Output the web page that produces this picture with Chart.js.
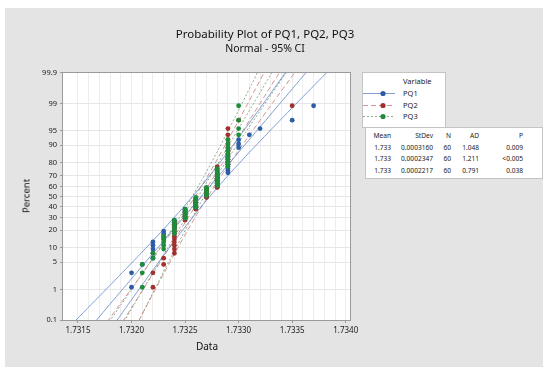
<!DOCTYPE html>
<html>
<head>
<meta charset="utf-8">
<script src="https://cdn.jsdelivr.net/npm/chart.js@4.4.1/dist/chart.umd.min.js"></script>
<style>
  html, body { margin: 0; padding: 0; background: #fff; }
  body { width: 543px; height: 367px; position: relative; overflow: hidden; font-family: "Noto Sans", "Open Sans", sans-serif; color: #222; }
  #frame { position: absolute; left: 5px; top: 8px; right: 0; bottom: 0; background: #e4e4e4; }
  #wrap { position: absolute; left: 0; top: 0; width: 543px; height: 367px; }
  .txt { position: absolute; white-space: nowrap; }
  #title { left: 0; width: 530px; top: 26px; text-align: center; font-size: 11.5px; color: #111; }
  #subtitle { left: 0; width: 530px; top: 41px; text-align: center; font-size: 10.5px; color: #111; }
  #ylab { left: 26px; top: 196px; font-size: 9.5px; color: #111; transform: translate(-50%, -50%) rotate(-90deg); }
  #xlab { left: 207px; top: 339px; font-size: 10px; color: #111; transform: translateX(-50%); }
  #legend { position: absolute; left: 362px; top: 72px; width: 82px; height: 54px; background: #fff; border: 1px solid #c4c4c4; font-size: 7.5px; }
  #legend .hd { position: absolute; left: 40px; top: 3px; }
  #legend .row { position: absolute; left: 0; height: 10px; }
  #legend .row span { position: absolute; left: 40px; top: 0; }
  #stats { position: absolute; left: 365px; top: 127px; width: 176px; height: 50px; background: #fff; border: 1px solid #c4c4c4; font-size: 6.6px; }
  #stats table { border-collapse: collapse; position: absolute; left: 3px; top: 2px; }
  #stats td { text-align: right; padding: 0; height: 11.5px; line-height: 11.5px; }
</style>
</head>
<body>
<div id="frame"></div>
<div id="wrap"><canvas id="chart"></canvas></div>
<div class="txt" id="title">Probability Plot of PQ1, PQ2, PQ3</div>
<div class="txt" id="subtitle">Normal - 95% CI</div>
<div class="txt" id="ylab">Percent</div>
<div class="txt" id="xlab">Data</div>
<div id="legend"></div>
<div id="stats"></div>
<script>
'use strict';

// measured values, one column per 0.0001
const dataLevels = [1.7320, 1.7321, 1.7322, 1.7323, 1.7324, 1.7325, 1.7326, 1.7327, 1.7328,
                    1.7329, 1.7330, 1.7331, 1.7332, 1.7333, 1.7334, 1.7335, 1.7336, 1.7337];
const pq1Counts = [2, 1, 5, 4, 5, 6, 6, 6, 8, 10, 3, 1, 1, 0, 0, 1, 0, 1];
const pq2Counts = [0, 0, 2, 2, 12, 6, 7, 6, 12, 11, 1, 0, 0, 0, 0, 1, 0, 0];
const pq3Counts = [0, 3, 2, 5, 7, 6, 7, 6, 10, 10, 4, 0, 0, 0, 0, 0, 0, 0];

const seriesNames = ['PQ1', 'PQ2', 'PQ3'];
const statMean  = ['1.733', '1.733', '1.733'];
const statStDev = [0.0003160, 0.0002347, 0.0002217];
const statN     = [60, 60, 60];
const statAD    = ['1.048', '1.211', '0.791'];
const statP     = ['0.009', '<0.005', '0.038'];

const xTicks = [1.7315, 1.7320, 1.7325, 1.7330, 1.7335, 1.7340];
const yTickPercents = [0.1, 1, 5, 10, 20, 30, 40, 50, 60, 70, 80, 90, 95, 99, 99.9];
const yTickLabels = ['0.1', '1', '5', '10', '20', '30', '40', '50', '60', '70', '80', '90', '95', '99', '99.9'];

const POINT_COLORS = ['#2d5ca6', '#a3302c', '#1f8c3c'];
const LINE_COLORS  = ['rgba(95,135,200,0.8)', 'rgba(200,120,120,0.8)', 'rgba(110,150,110,0.8)'];
const LINE_DASH    = [[], [5, 3], [2, 2]];

// inverse standard normal (Acklam)
function probit(p) {
  const a = [-39.69683028665376, 220.9460984245205, -275.9285104469687, 138.3577518672690, -30.66479806614716, 2.506628277459239];
  const b = [-54.47609879822406, 161.5858368580409, -155.6989798598866, 66.80131188771972, -13.28068155288572];
  const c = [-0.007784894002430293, -0.3223964580411365, -2.400758277161838, -2.549732539343734, 4.374664141464968, 2.938163982698783];
  const d = [0.007784695709041462, 0.3224671290700398, 2.445134137142996, 3.754408661907416];
  const pl = 0.02425;
  let q, r;
  if (p < pl) {
    q = Math.sqrt(-2 * Math.log(p));
    return (((((c[0]*q+c[1])*q+c[2])*q+c[3])*q+c[4])*q+c[5]) / ((((d[0]*q+d[1])*q+d[2])*q+d[3])*q+1);
  }
  if (p > 1 - pl) {
    q = Math.sqrt(-2 * Math.log(1 - p));
    return -(((((c[0]*q+c[1])*q+c[2])*q+c[3])*q+c[4])*q+c[5]) / ((((d[0]*q+d[1])*q+d[2])*q+d[3])*q+1);
  }
  q = p - 0.5; r = q * q;
  return (((((a[0]*r+a[1])*r+a[2])*r+a[3])*r+a[4])*r+a[5])*q / (((((b[0]*r+b[1])*r+b[2])*r+b[3])*r+b[4])*r+1);
}

function expand(counts) {
  const out = [];
  counts.forEach((n, i) => { for (let k = 0; k < n; k++) out.push(dataLevels[i]); });
  return out;
}

const series = [pq1Counts, pq2Counts, pq3Counts].map(expand);
const Z_MIN = probit(0.001), Z_MAX = probit(0.999);

const datasets = [];
series.forEach((vals, s) => {
  const n = vals.length;
  const mean = vals.reduce((a, v) => a + v, 0) / n;
  const sd = statStDev[s];
  // median-rank plotting positions
  datasets.push({
    label: seriesNames[s],
    data: vals.map((v, i) => ({ x: v, y: probit((i + 1 - 0.3) / (n + 0.4)) })),
    backgroundColor: POINT_COLORS[s], borderColor: POINT_COLORS[s],
    pointRadius: 2.4, borderWidth: 0, showLine: false, order: 3 - s,
  });
  // fitted line and 95% CI bands
  const zs = [];
  for (let z = -3.3; z <= 3.31; z += 0.1) zs.push(z);
  const fit = zs.map(z => ({ x: mean + z * sd, y: z }));
  const half = z => 1.96 * sd * Math.sqrt(1 / n + z * z / (2 * n));
  const lo = zs.map(z => ({ x: mean + z * sd + half(z), y: z }));
  const hi = zs.map(z => ({ x: mean + z * sd - half(z), y: z }));
  [fit, lo, hi].forEach(d => datasets.push({
    data: d, showLine: true, pointRadius: 0, borderWidth: 1,
    borderColor: LINE_COLORS[s], borderDash: LINE_DASH[s], tension: 0, order: 10,
  }));
});

const plotFrame = {
  id: 'plotFrame',
  beforeDraw(c) {
    const { ctx, chartArea: a } = c;
    ctx.save();
    ctx.fillStyle = '#fff';
    ctx.fillRect(a.left, a.top, a.right - a.left, a.bottom - a.top);
    ctx.restore();
  },
  afterDraw(c) {
    const { ctx, chartArea: a } = c;
    ctx.save();
    ctx.strokeStyle = '#9a9a9a';
    ctx.lineWidth = 1;
    ctx.strokeRect(a.left - 0.5, a.top - 0.5, a.right - a.left + 1, a.bottom - a.top + 1);
    ctx.restore();
  },
};

new Chart(document.getElementById('chart'), {
  type: 'scatter',
  data: { datasets },
  plugins: [plotFrame],
  options: {
    responsive: true, maintainAspectRatio: false, animation: false,
    layout: { padding: { left: 18, top: 73, right: 193, bottom: 17 } },
    plugins: { legend: { display: false }, tooltip: { enabled: false } },
    scales: {
      x: {
        type: 'linear', min: 1.73136, max: 1.73404,
        afterBuildTicks: sc => {
          const t = [];
          for (let k = 17315; k <= 17340; k++) t.push({ value: k / 10000 });
          sc.ticks = t;
        },
        afterFit: sc => { sc.height = 30; },
        ticks: {
          autoSkip: false, maxRotation: 0, padding: 3, color: '#222',
          font: { family: 'Noto Sans', size: 8 },
          callback: v => xTicks.some(t => Math.abs(t - v) < 1e-7) ? v.toFixed(4) : '',
        },
        grid: {
          color: '#ededed', tickLength: 3,
          tickColor: ctx => xTicks.some(t => Math.abs(t - ctx.tick.value) < 1e-7) ? '#9a9a9a' : 'rgba(0,0,0,0)',
        },
        border: { display: false },
      },
      y: {
        type: 'linear', min: Z_MIN, max: Z_MAX,
        afterBuildTicks: sc => { sc.ticks = yTickPercents.map(p => ({ value: probit(p / 100) })); },
        afterFit: sc => { sc.width = 45; },
        ticks: {
          autoSkip: false, padding: 3, color: '#222',
          font: { family: 'Noto Sans', size: 7.5 },
          callback: (v, i) => yTickLabels[i],
        },
        grid: { color: '#e6e6e6', tickLength: 3, tickColor: '#9a9a9a' },
        border: { display: false },
      },
    },
  },
});

// legend
const legend = document.getElementById('legend');
legend.innerHTML = '<div class="hd">Variable</div>' + seriesNames.map((name, s) => {
  const dash = LINE_DASH[s].length ? `stroke-dasharray="${LINE_DASH[s].join(',')}"` : '';
  return `<div class="row" style="top:${15 + s * 11.5}px;width:80px">
    <svg width="32" height="10" style="position:absolute;left:0;top:0">
      <line x1="0" y1="5.5" x2="32" y2="5.5" stroke="${LINE_COLORS[s]}" stroke-width="1" ${dash}/>
      <circle cx="20" cy="5.5" r="2.6" fill="${POINT_COLORS[s]}"/>
    </svg><span>${name}</span></div>`;
}).join('');

// statistics table
const stats = document.getElementById('stats');
const widths = [22, 42, 18, 28, 44];
let html = '<table><tr>' + ['Mean', 'StDev', 'N', 'AD', 'P']
  .map((h, i) => `<td style="width:${widths[i]}px">${h}</td>`).join('') + '</tr>';
seriesNames.forEach((_, s) => {
  html += `<tr><td>${statMean[s]}</td><td>${statStDev[s].toFixed(7)}</td><td>${statN[s]}</td><td>${statAD[s]}</td><td>${statP[s]}</td></tr>`;
});
stats.innerHTML = html + '</table>';
</script>
</body>
</html>
